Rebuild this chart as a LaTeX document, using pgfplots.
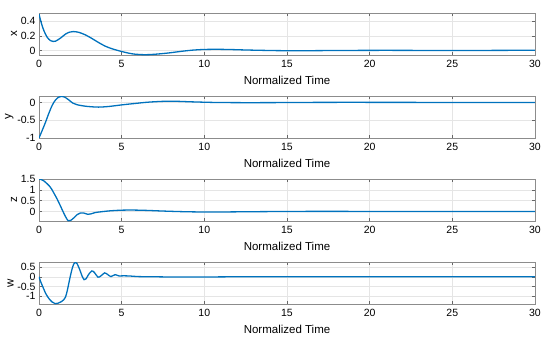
\documentclass[border=0pt]{standalone}
\usepackage{fontspec}
\setmainfont{Liberation Sans}
\usepackage{pgfplots}
\pgfplotsset{compat=1.18}
\definecolor{mblue}{rgb}{0,0.447,0.741}
\pgfplotsset{
  panel/.style={
    scale only axis, width=496pt, height=42pt,
    xmin=0, xmax=30, xtick={0,5,...,30},
    axis line style={black!45, line width=0.6pt},
    tick style={black!60, line width=0.5pt},
    tick align=inside, major tick length=3pt,
    grid=major, grid style={black!10, line width=0.4pt},
    ticklabel style={font=\fontsize{10.5}{11}\selectfont},
    xticklabel style={yshift=-1.5pt},
    label style={font=\fontsize{11.5}{13}\selectfont},
    xlabel={Normalized Time},
    xlabel style={yshift=-1.5pt},
    ylabel style={yshift=-3pt},
    /pgf/number format/assume math mode=true,
    anchor=north west,
  },
  curve/.style={mblue, line width=1.3pt, smooth, tension=0.5},
}
\begin{document}
\begin{tikzpicture}
\useasboundingbox (0,0) rectangle (550pt,-341pt);
% x
\begin{axis}[panel, at={(39pt,-13pt)}, ymin=-0.062, ymax=0.515, ytick={0,0.2,0.4}, ylabel={x}]
\addplot[curve] coordinates {(0,0.50) (0.15,0.37) (0.3,0.27) (0.5,0.18) (0.7,0.135) (0.86,0.124) (1.0,0.128) (1.3,0.17) (1.6,0.225) (1.85,0.252) (2.07,0.26) (2.4,0.25) (2.8,0.215) (3.2,0.165) (3.6,0.11) (4.0,0.06) (4.4,0.025) (4.77,0.0) (5.2,-0.025) (5.7,-0.048) (6.4,-0.058) (7.0,-0.052) (7.8,-0.035) (8.6,-0.012) (9.3,0.005) (10.0,0.014) (10.8,0.016) (11.6,0.013) (12.5,0.007) (13.5,0.002) (14.5,-0.002) (16,-0.003) (17.5,-0.001) (19,0.001) (21,0.002) (23,0.001) (25,0) (27,0.001) (28.5,0.002) (30,0.003)};
\end{axis}
% y
\begin{axis}[panel, at={(39pt,-96pt)}, ymin=-1, ymax=0.18, ytick={-1,-0.5,0}, ylabel={y}]
\addplot[curve] coordinates {(0,-1) (0.2,-0.78) (0.4,-0.55) (0.6,-0.3) (0.8,-0.08) (1.0,0.07) (1.2,0.15) (1.37,0.17) (1.55,0.15) (1.8,0.07) (2.05,-0.02) (2.3,-0.065) (2.7,-0.1) (3.1,-0.12) (3.6,-0.132) (4.2,-0.115) (5.0,-0.07) (5.8,-0.03) (6.7,0.01) (7.9,0.035) (9.3,0.015) (10.5,0.0) (11.5,-0.005) (12.5,-0.007) (14,-0.006) (15.5,-0.002) (17,0.001) (19,0.002) (21,0.001) (24,0) (27,0) (30,0)};
\end{axis}
% z
\begin{axis}[panel, at={(39pt,-179pt)}, ymin=-0.44, ymax=1.5, ytick={0,0.5,1,1.5}, ylabel={z}]
\addplot[curve] coordinates {(0,1.5) (0.15,1.47) (0.3,1.41) (0.45,1.31) (0.6,1.2) (0.75,1.05) (0.9,0.85) (1.1,0.57) (1.3,0.25) (1.5,-0.08) (1.65,-0.3) (1.77,-0.43) (1.92,-0.41) (2.1,-0.3) (2.3,-0.15) (2.5,-0.07) (2.7,-0.07) (2.95,-0.13) (3.15,-0.11) (3.4,-0.05) (3.8,-0.01) (4.3,0.03) (5.0,0.06) (5.7,0.065) (6.5,0.05) (7.5,0.02) (8.5,-0.005) (9.5,-0.02) (10.5,-0.025) (11.5,-0.02) (13,-0.01) (15,0) (17,0.005) (20,0.002) (23,-0.002) (26,0) (30,0)};
\end{axis}
% w
\begin{axis}[panel, at={(39pt,-262pt)}, ymin=-1.4, ymax=0.76, ytick={-1,-0.5,0,0.5}, ylabel={w}]
\addplot[curve] coordinates {(0,0) (0.1,-0.25) (0.25,-0.55) (0.4,-0.85) (0.6,-1.12) (0.8,-1.3) (0.98,-1.38) (1.15,-1.36) (1.35,-1.28) (1.5,-1.18) (1.6,-1.05) (1.7,-0.75) (1.8,-0.35) (1.9,0.05) (2.0,0.4) (2.1,0.65) (2.2,0.75) (2.3,0.68) (2.45,0.4) (2.6,0.05) (2.73,-0.15) (2.85,-0.1) (3.0,0.12) (3.2,0.3) (3.35,0.22) (3.57,-0.02) (3.75,0.05) (3.97,0.2) (4.15,0.12) (4.35,0.01) (4.6,0.11) (4.85,0.04) (5.1,0.05) (5.5,0.04) (6,0.01) (7,0.0) (8,-0.01) (10,-0.01) (12,0) (15,0.005) (20,0) (25,0.005) (30,0.0)};
\end{axis}
\end{tikzpicture}
\end{document}
